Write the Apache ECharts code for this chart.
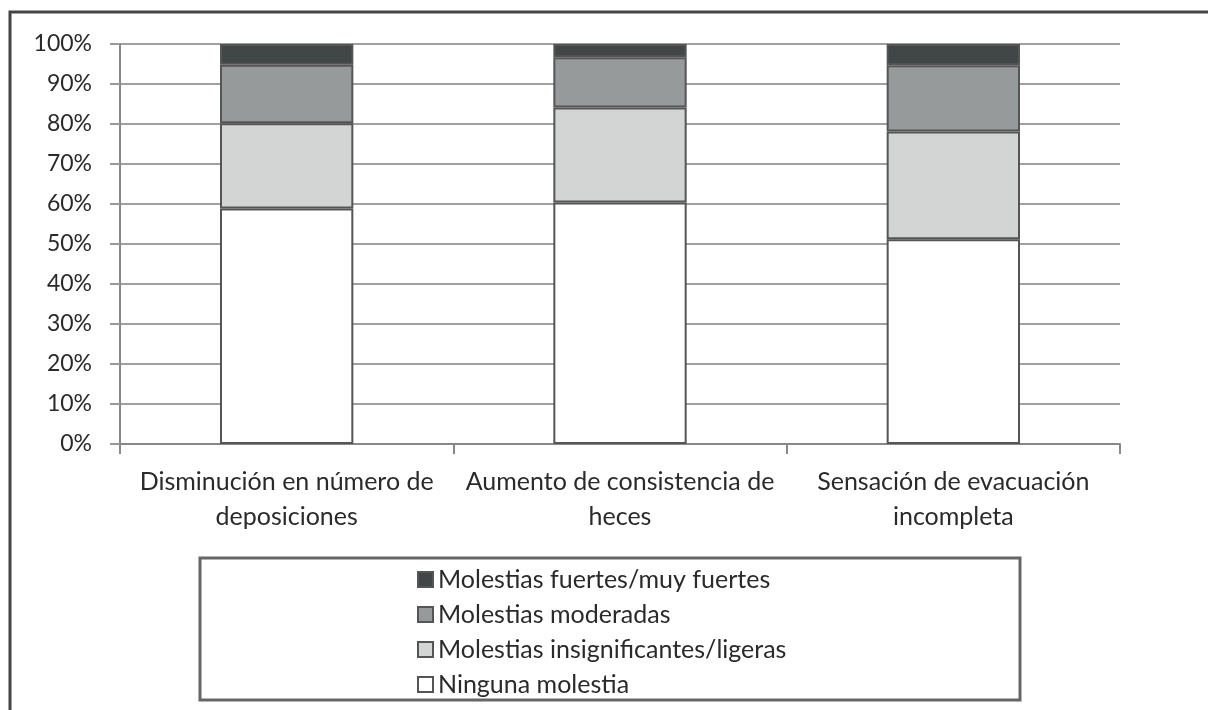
<!DOCTYPE html>
<html>
<head>
<meta charset="utf-8">
<script src="https://cdn.jsdelivr.net/npm/echarts@6/dist/echarts.min.js"></script>
<style>
  html, body { margin: 0; padding: 0; background: #fff; }
  #chart { width: 1208px; height: 710px; }
</style>
</head>
<body>
<div id="chart"></div>
<script>
  var categories = [
    'Disminución en número de\ndeposiciones',
    'Aumento de consistencia de\nheces',
    'Sensación de evacuación\nincompleta'
  ]
  var seriesNames = [
    'Ninguna molestia',
    'Molestias insignificantes/ligeras',
    'Molestias moderadas',
    'Molestias fuertes/muy fuertes'
  ]
  var ninguna = [58.9, 60.4, 51.2]
  var ligeras = [21.3, 23.7, 26.9]
  var moderadas = [14.6, 12.6, 16.6]
  var fuertes = [5.2, 3.3, 5.3]
  var colors = ['#ffffff', '#d3d5d5', '#979a9a', '#414646']

  var mychart = echarts.init(document.getElementById('chart'))

  var values = [ninguna, ligeras, moderadas, fuertes]
  var series = seriesNames.map(function (name, i) {
    return {
      name: name,
      type: 'bar',
      stack: 'total',
      barWidth: '40%',
      data: values[i],
      itemStyle: { color: colors[i], borderColor: '#555', borderWidth: 2 }
    }
  })

  var option = {
    animation: false,
    textStyle: { fontFamily: 'Lato' },
    grid: { left: 120, right: 88, top: 44, bottom: 266 },
    graphic: [
      {
        type: 'rect',
        shape: { x: 10, y: 12, width: 1230, height: 740 },
        style: { fill: 'none', stroke: '#444', lineWidth: 3 }
      },
      {
        type: 'rect',
        shape: { x: 200, y: 558, width: 820, height: 142 },
        style: { fill: 'none', stroke: '#666', lineWidth: 3 }
      }
    ],
    legend: {
      orient: 'vertical',
      left: 412,
      top: 562,
      itemWidth: 15,
      itemHeight: 15,
      itemGap: 10,
      icon: 'rect',
      data: seriesNames.slice().reverse(),
      textStyle: { fontFamily: 'Lato', fontSize: 25, color: '#2a2a2a', padding: [0, 0, 0, 0] }
    },
    xAxis: {
      type: 'category',
      data: categories,
      axisLine: { lineStyle: { color: '#888', width: 2 } },
      axisTick: { show: true, length: 10, lineStyle: { color: '#888', width: 2 } },
      axisLabel: {
        interval: 0,
        margin: 20,
        fontSize: 25,
        lineHeight: 35,
        color: '#2a2a2a',
        fontFamily: 'Lato'
      }
    },
    yAxis: {
      type: 'value',
      min: 0,
      max: 100,
      interval: 10,
      axisLine: { show: true, lineStyle: { color: '#888', width: 2 } },
      axisTick: { show: true, length: 10, lineStyle: { color: '#999', width: 2 } },
      splitLine: { lineStyle: { color: '#a0a0a0', width: 2 } },
      axisLabel: {
        formatter: '{value}%',
        fontSize: 23,
        margin: 28,
        color: '#2a2a2a',
        fontFamily: 'Lato'
      }
    },
    series: series
  }

  option && mychart.setOption(option)
</script>
</body>
</html>
